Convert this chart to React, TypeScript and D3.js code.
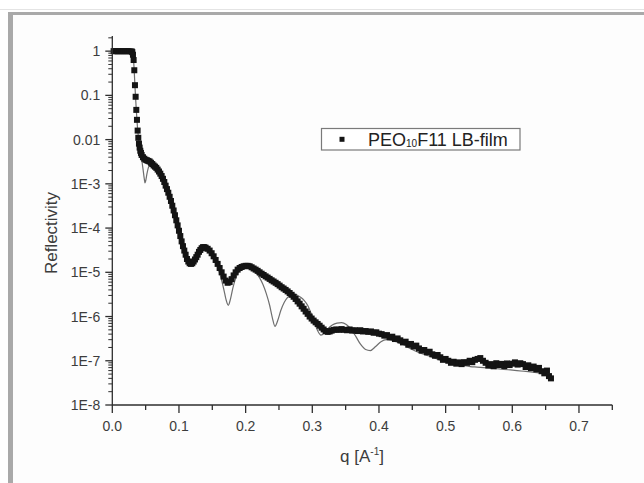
import React from "react";
import * as d3 from "d3";

// measured reflectivity (PEO10F11 LB-film)
const qData = [
  0.002, 0.005, 0.008, 0.011, 0.014, 0.017, 0.020, 0.023, 0.026, 0.029,
  0.030, 0.031, 0.032, 0.033, 0.034, 0.035, 0.036, 0.037, 0.038, 0.039,
  0.040, 0.041, 0.042, 0.043, 0.044, 0.046, 0.048, 0.050, 0.052, 0.054,
  0.056, 0.058, 0.060, 0.062, 0.064, 0.066, 0.068, 0.070, 0.072, 0.074,
  0.076, 0.078, 0.080, 0.082, 0.084, 0.086, 0.088, 0.090, 0.092, 0.094,
  0.096, 0.098, 0.100, 0.102, 0.104, 0.106, 0.108, 0.110, 0.112, 0.114,
  0.116, 0.118, 0.120, 0.122, 0.124, 0.126, 0.128, 0.130, 0.132, 0.134,
  0.136, 0.138, 0.140, 0.143, 0.146, 0.149, 0.152, 0.155, 0.158, 0.161,
  0.164, 0.167, 0.170, 0.173, 0.176, 0.179, 0.182, 0.185, 0.188, 0.191,
  0.194, 0.197, 0.200, 0.203, 0.206, 0.209, 0.212, 0.215, 0.218, 0.221,
  0.224, 0.227, 0.230, 0.233, 0.236, 0.239, 0.242, 0.245, 0.248, 0.251,
  0.254, 0.257, 0.260, 0.263, 0.266, 0.269, 0.272, 0.275, 0.278, 0.281,
  0.284, 0.287, 0.290, 0.293, 0.296, 0.299, 0.302, 0.305, 0.308, 0.311,
  0.314, 0.317, 0.320, 0.323, 0.326, 0.329, 0.332, 0.336, 0.340, 0.344,
  0.348, 0.352, 0.356, 0.360, 0.364, 0.368, 0.372, 0.376, 0.380, 0.384,
  0.388, 0.392, 0.396, 0.400, 0.404, 0.408, 0.412, 0.416, 0.420, 0.424,
  0.428, 0.432, 0.436, 0.440, 0.444, 0.448, 0.452, 0.456, 0.460, 0.464,
  0.468, 0.472, 0.476, 0.480, 0.484, 0.488, 0.492, 0.496, 0.500, 0.504,
  0.508, 0.512, 0.516, 0.520, 0.524, 0.528, 0.532, 0.536, 0.540, 0.544,
  0.548, 0.552, 0.556, 0.560, 0.564, 0.568, 0.572, 0.576, 0.580, 0.584,
  0.588, 0.592, 0.596, 0.600, 0.604, 0.608, 0.612, 0.616, 0.620, 0.624,
  0.628, 0.632, 0.636, 0.640, 0.644, 0.648, 0.652, 0.655, 0.658,
];
const rData = [
  1.0, 1.0, 0.99, 1.0, 1.0, 0.99, 1.0, 1.0, 0.99, 0.99,
  0.95, 0.83, 0.63, 0.37, 0.17, 0.093, 0.047, 0.028, 0.016, 0.011,
  8.1e-3, 6.6e-3, 5.6e-3, 5.0e-3, 4.5e-3, 4.0e-3, 3.7e-3, 3.5e-3, 3.4e-3, 3.3e-3,
  3.2e-3, 3.0e-3, 2.8e-3, 2.6e-3, 2.45e-3, 2.3e-3, 2.1e-3, 1.9e-3, 1.7e-3, 1.5e-3,
  1.3e-3, 1.1e-3, 9.1e-4, 7.6e-4, 6.3e-4, 5.1e-4, 4.1e-4, 3.2e-4, 2.5e-4, 1.95e-4,
  1.5e-4, 1.15e-4, 8.7e-5, 6.6e-5, 5.0e-5, 3.9e-5, 3.1e-5, 2.5e-5, 2.0e-5, 1.75e-5,
  1.6e-5, 1.55e-5, 1.6e-5, 1.75e-5, 1.95e-5, 2.2e-5, 2.5e-5, 2.9e-5, 3.2e-5, 3.5e-5,
  3.7e-5, 3.7e-5, 3.6e-5, 3.4e-5, 3.1e-5, 2.7e-5, 2.3e-5, 1.9e-5, 1.55e-5, 1.25e-5,
  1.0e-5, 8.0e-6, 6.5e-6, 5.8e-6, 6.0e-6, 7.0e-6, 8.5e-6, 1.0e-5, 1.15e-5, 1.25e-5,
  1.32e-5, 1.37e-5, 1.4e-5, 1.4e-5, 1.37e-5, 1.3e-5, 1.22e-5, 1.15e-5, 1.08e-5, 1.0e-5,
  9.3e-6, 8.7e-6, 8.1e-6, 7.6e-6, 7.1e-6, 6.6e-6, 6.2e-6, 5.8e-6, 5.4e-6, 5.0e-6,
  4.6e-6, 4.3e-6, 4.0e-6, 3.7e-6, 3.4e-6, 3.1e-6, 2.8e-6, 2.5e-6, 2.2e-6, 1.95e-6,
  1.7e-6, 1.5e-6, 1.3e-6, 1.15e-6, 1.0e-6, 9.0e-7, 8.1e-7, 7.4e-7, 6.8e-7, 6.2e-7,
  5.6e-7, 5.1e-7, 4.7e-7, 4.5e-7, 4.6e-7, 4.8e-7, 5.0e-7, 5.1e-7, 5.0e-7, 5.2e-7,
  5.0e-7, 4.9e-7, 5.1e-7, 4.8e-7, 4.9e-7, 4.7e-7, 4.9e-7, 4.6e-7, 4.7e-7, 4.5e-7,
  4.6e-7, 4.3e-7, 4.4e-7, 4.1e-7, 4.0e-7, 3.7e-7, 3.8e-7, 3.4e-7, 3.5e-7, 3.1e-7,
  3.2e-7, 2.9e-7, 2.6e-7, 2.7e-7, 2.3e-7, 2.4e-7, 2.1e-7, 2.2e-7, 1.9e-7, 1.7e-7,
  1.75e-7, 1.55e-7, 1.6e-7, 1.4e-7, 1.3e-7, 1.35e-7, 1.2e-7, 1.05e-7, 1.1e-7, 1.0e-7,
  9.0e-8, 9.5e-8, 8.6e-8, 9.2e-8, 8.4e-8, 9.3e-8, 9.0e-8, 1.0e-7, 9.3e-8, 1.05e-7,
  1.1e-7, 1.15e-7, 1.0e-7, 9.0e-8, 7.8e-8, 8.4e-8, 7.5e-8, 8.8e-8, 8.0e-8, 8.5e-8,
  7.6e-8, 8.7e-8, 8.0e-8, 8.6e-8, 9.2e-8, 8.2e-8, 8.8e-8, 8.4e-8, 7.2e-8, 7.9e-8,
  6.8e-8, 7.4e-8, 6.4e-8, 6.9e-8, 5.8e-8, 5.2e-8, 6.0e-8, 4.5e-8, 4.0e-8,
];

// model fit (thin gray line)
const qFit = [
  0.000, 0.028, 0.030, 0.031, 0.032, 0.033, 0.034, 0.035, 0.036, 0.037,
  0.038, 0.039, 0.040, 0.042, 0.044, 0.046, 0.048, 0.049, 0.050, 0.052,
  0.054, 0.056, 0.058, 0.060, 0.064, 0.068, 0.072, 0.076, 0.080, 0.085,
  0.090, 0.095, 0.100, 0.105, 0.110, 0.115, 0.118, 0.122, 0.127, 0.132,
  0.137, 0.142, 0.147, 0.152, 0.157, 0.162, 0.167, 0.171, 0.174, 0.177,
  0.181, 0.186, 0.191, 0.196, 0.201, 0.206, 0.211, 0.216, 0.221, 0.226,
  0.231, 0.236, 0.240, 0.244, 0.248, 0.253, 0.258, 0.263, 0.268, 0.273,
  0.278, 0.283, 0.288, 0.293, 0.298, 0.303, 0.308, 0.313, 0.318, 0.323,
  0.330, 0.337, 0.344, 0.351, 0.358, 0.365, 0.372, 0.380, 0.387, 0.395,
  0.403, 0.411, 0.419, 0.428, 0.437, 0.447, 0.457, 0.467, 0.477, 0.487,
  0.497, 0.507, 0.517, 0.527, 0.537, 0.547, 0.557, 0.567, 0.577, 0.587,
  0.597, 0.607, 0.617, 0.627, 0.637, 0.647, 0.657,
];
const rFit = [
  1.0, 1.0, 0.97, 0.85, 0.6, 0.33, 0.16, 0.085, 0.047, 0.028,
  0.017, 0.012, 8.5e-3, 5.5e-3, 3.6e-3, 2.2e-3, 1.3e-3, 1.05e-3, 1.15e-3, 1.7e-3,
  2.3e-3, 2.7e-3, 2.9e-3, 2.85e-3, 2.5e-3, 2.1e-3, 1.7e-3, 1.3e-3, 9.0e-4, 5.2e-4,
  3.1e-4, 1.5e-4, 8.0e-5, 4.3e-5, 2.4e-5, 1.6e-5, 1.5e-5, 1.75e-5, 2.6e-5, 3.6e-5,
  4.1e-5, 3.9e-5, 3.2e-5, 2.3e-5, 1.5e-5, 8.5e-6, 4.3e-6, 2.3e-6, 1.8e-6, 2.4e-6,
  4.5e-6, 8.0e-6, 1.1e-5, 1.3e-5, 1.35e-5, 1.3e-5, 1.15e-5, 9.5e-6, 7.5e-6, 5.3e-6,
  3.3e-6, 1.8e-6, 9.5e-7, 6.0e-7, 8.0e-7, 1.4e-6, 2.1e-6, 2.7e-6, 3.1e-6, 3.2e-6,
  3.0e-6, 2.7e-6, 2.3e-6, 1.8e-6, 1.2e-6, 7.5e-7, 4.8e-7, 3.8e-7, 4.2e-7, 5.2e-7,
  6.4e-7, 7.1e-7, 7.3e-7, 6.6e-7, 5.2e-7, 3.6e-7, 2.4e-7, 1.8e-7, 1.7e-7, 2.1e-7,
  2.7e-7, 3.0e-7, 2.9e-7, 2.6e-7, 2.3e-7, 1.9e-7, 1.6e-7, 1.4e-7, 1.25e-7, 1.1e-7,
  9.8e-8, 9.0e-8, 8.3e-8, 7.8e-8, 7.4e-8, 7.2e-8, 7.0e-8, 6.8e-8, 6.6e-8, 6.4e-8,
  6.2e-8, 6.0e-8, 5.8e-8, 5.6e-8, 5.4e-8, 5.2e-8, 5.0e-8,
];

const xTickValues = [0, 0.1, 0.2, 0.3, 0.4, 0.5, 0.6, 0.7];
const xTickLabels = ["0.0", "0.1", "0.2", "0.3", "0.4", "0.5", "0.6", "0.7"];
const xMinorValues = [0.05, 0.15, 0.25, 0.35, 0.45, 0.55, 0.65, 0.75];
const yTickValues = [1e-8, 1e-7, 1e-6, 1e-5, 1e-4, 1e-3, 0.01, 0.1, 1];
const yTickLabels = ["1E-8", "1E-7", "1E-6", "1E-5", "1E-4", "1E-3", "0.01", "0.1", "1"];
const legendLabel = { main: "PEO", sub: "10", rest: "F11 LB-film" };

const FONT = "'Liberation Sans', Arial, Helvetica, sans-serif";

export default function App() {
  const W = 644;
  const H = 483;
  const x = d3.scaleLinear().domain([0, 0.75]).range([112.3, 612.3]);
  const y = d3.scaleLog().domain([1e-8, 2.2]).range([405, 36]);
  const [x0, x1] = x.range();
  const [yb, yt] = y.range();

  const yMinor: number[] = [];
  for (let e = -8; e <= 0; e++) {
    for (let m = 2; m <= 9; m++) {
      const v = m * Math.pow(10, e);
      if (v <= 2.2) yMinor.push(v);
    }
  }

  const fitLine = d3
    .line<number>()
    .x((_, i) => x(qFit[i]))
    .y((d) => y(d))
    .curve(d3.curveMonotoneX);

  const axisColor = "#2e2e2e";
  const textColor = "#3c3c3c";
  const sq = 6;

  return (
    <svg
      width={W}
      height={H}
      style={{ position: "absolute", left: 0, top: 0, display: "block" }}
      fontFamily={FONT}
    >
      <rect x={0} y={0} width={W} height={H} fill="#ffffff" />
      <line x1={0} x2={W} y1={9.5} y2={9.5} stroke="#e4e4e4" strokeWidth={1} />
      <rect x={8} y={12} width={W - 8} height={H - 12} fill="#a9a9a9" />
      <rect x={13} y={15} width={W - 13} height={H - 15} fill="#fdfdfd" />

      {/* fit */}
      <path d={fitLine(rFit) || ""} fill="none" stroke="#6e6e6e" strokeWidth={1.2} />

      {/* data */}
      <g fill="#141414">
        {rData.map((r, i) => (
          <rect key={i} x={x(qData[i]) - sq / 2} y={y(r) - sq / 2} width={sq} height={sq} />
        ))}
      </g>

      {/* axes */}
      <g stroke={axisColor} strokeWidth={1.3} fill="none">
        <line x1={x0} x2={x1} y1={yb} y2={yb} />
        <line x1={x0} x2={x0} y1={yb} y2={yt} />
        {xTickValues.map((v, i) => (
          <line key={"xt" + i} x1={x(v)} x2={x(v)} y1={yb} y2={yb + 8} />
        ))}
        {xMinorValues.map((v, i) => (
          <line key={"xm" + i} x1={x(v)} x2={x(v)} y1={yb} y2={yb + 5} />
        ))}
        {yTickValues.map((v, i) => (
          <line key={"yt" + i} x1={x0 - 7} x2={x0} y1={y(v)} y2={y(v)} />
        ))}
        {yMinor.map((v, i) => (
          <line key={"ym" + i} x1={x0 - 4} x2={x0} y1={y(v)} y2={y(v)} strokeWidth={1} />
        ))}
      </g>

      <g fill={textColor} fontSize={14}>
        {xTickValues.map((v, i) => (
          <text key={"xl" + i} x={x(v)} y={yb + 26} textAnchor="middle">
            {xTickLabels[i]}
          </text>
        ))}
        {yTickValues.map((v, i) => (
          <text key={"yl" + i} x={x0 - 12} y={y(v) + 5} textAnchor="end">
            {yTickLabels[i]}
          </text>
        ))}
      </g>

      {/* axis titles */}
      <text x={362} y={462} textAnchor="middle" fontSize={17} fill={textColor}>
        q [A
        <tspan dy={-7} fontSize={10}>-1</tspan>
        <tspan dy={7}>]</tspan>
      </text>
      <text
        transform={`translate(57, 233) rotate(-90)`}
        textAnchor="middle"
        fontSize={17}
        fill={textColor}
      >
        Reflectivity
      </text>

      {/* legend */}
      <rect x={321.5} y={128.5} width={198.5} height={21.5} fill="#ffffff" stroke="#7a7a7a" strokeWidth={1.2} />
      <rect x={339.5} y={136.8} width={5} height={5} fill="#141414" />
      <text x={368} y={146} fontSize={18} fill="#222">
        {legendLabel.main}
        <tspan fontSize={10} dy={1}>{legendLabel.sub}</tspan>
        <tspan dy={-1}>{legendLabel.rest}</tspan>
      </text>
    </svg>
  );
}
